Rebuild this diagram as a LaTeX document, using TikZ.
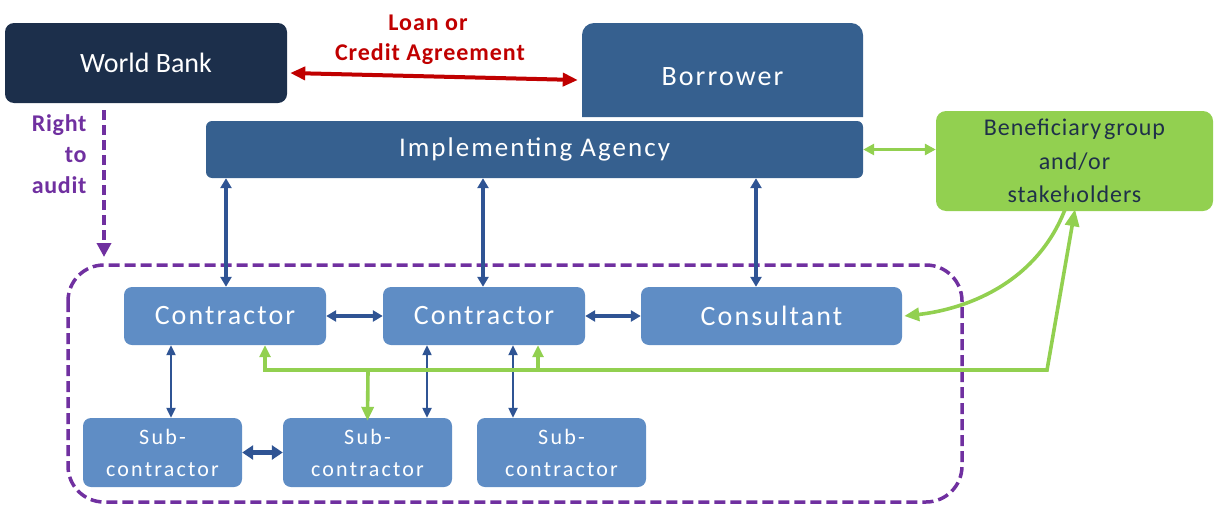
\documentclass[tikz,border=0pt]{standalone}
\usepackage{fontspec}
\setmainfont{Carlito}
\newfontfamily\fA{Carlito}[LetterSpace=7.5]
\newfontfamily\fB{Carlito}[LetterSpace=10]
\newfontfamily\fC{Carlito}[LetterSpace=4]
\newfontfamily\fD{Carlito}[LetterSpace=3]
\usetikzlibrary{arrows.meta}
\definecolor{wbnavy}{HTML}{1C2F4B}
\definecolor{agblue}{HTML}{36608F}
\definecolor{ctblue}{HTML}{5F8DC5}
\definecolor{arblue}{HTML}{2F5494}
\definecolor{bgreen}{HTML}{92D050}
\definecolor{lred}{HTML}{C00000}
\definecolor{apurple}{HTML}{7030A0}
\definecolor{bentext}{HTML}{1F3049}
\tikzset{
  topbox/.style={rounded corners=9pt, inner sep=0pt, text=white, font=\fA\fontsize{28}{32}\selectfont},
  ctbox/.style={fill=ctblue, rounded corners=8pt, inner sep=0pt, minimum height=58pt, text=white, font=\fA\fontsize{28}{32}\selectfont},
  subbox/.style={fill=ctblue, rounded corners=8pt, inner sep=0pt, minimum height=69pt, minimum width=169pt, text=white, align=center, font=\fB\fontsize{22}{32}\selectfont},
  barrow/.style={draw=arblue, line width=3.6pt, {Triangle[width=11pt,length=10pt]}-{Triangle[width=11pt,length=10pt]}},
  tarrow/.style={draw=arblue, line width=2.2pt, {Triangle[width=9pt,length=10pt]}-{Triangle[width=9pt,length=10pt]}},
  garrow/.style={draw=bgreen, line width=3.6pt},
}
\begin{document}
\begin{tikzpicture}[x=1pt,y=-1pt]
\useasboundingbox (0,0) rectangle (1214,506);
% top boxes
\node[topbox, fill=wbnavy, font=\fontsize{28}{32}\selectfont, minimum width=282pt, minimum height=80pt] (wb) at (146,63) {World Bank};
\fill[agblue] (582,117) -- (582,35) arc[start angle=180, end angle=90, radius=12pt] -- (851,23) arc[start angle=90, end angle=0, radius=12pt] -- (863,117) -- cycle;
\node[topbox, minimum width=281pt, minimum height=94pt] (bor) at (722.5,77) {Borrower};
\node[topbox, fill=agblue, font=\fA\fontsize{27}{32}\selectfont, rounded corners=6pt, minimum width=657pt, minimum height=57pt] (impl) at (534.5,149.5) {Implementing Agency};
\node[fill=bgreen, rounded corners=10pt, inner sep=0pt, minimum width=277pt, minimum height=100pt, text=bentext, align=center, font=\fC\fontsize{24}{33.5}\selectfont] (ben) at (1074.5,161) {Beneficiary\hspace{3pt}group\\and/or\\stakeholders};
% loan agreement
\node[text=lred, font=\fC\bfseries\fontsize{24}{28}\selectfont] (loan1) at (428,23) {Loan or};
\node[text=lred, font=\fC\bfseries\fontsize{24}{28}\selectfont] (loan2) at (430,54) {Credit Agreement};
\draw[draw=lred, line width=4pt, {Triangle[width=13pt,length=15pt]}-{Triangle[width=13pt,length=15pt]}] ([shift={(3,10)}]wb.east) -- ([shift={(-4,3)}]bor.west);
% right to audit
\node[text=apurple, align=right, anchor=east, font=\fD\bfseries\fontsize{24}{31}\selectfont] (audit) at (90,154) {Right\\to\\audit};
\coordinate (auditend) at (104,257);
\draw[draw=apurple, line width=3.5pt, dash pattern=on 10pt off 5pt, -{Triangle[width=14pt,length=14pt]}] ([xshift=-42,yshift=-7]wb.south) -- (auditend);
% dashed group
\draw[draw=apurple, line width=3.5pt, dash pattern=on 11pt off 5pt, rounded corners=36pt] (68,265) rectangle (962,502);
% contractors
\node[ctbox, minimum width=202pt] (c1) at (225,316) {Contractor};
\node[ctbox, minimum width=202pt] (c2) at (484,316) {Contractor};
\node[ctbox, minimum width=261pt] (cons) at (771.5,316) {Consultant};
\node[subbox, minimum width=159pt] (s1) at (162.5,452.5) {Sub-\\contractor};
\node[subbox] (s2) at (367.5,452.5) {Sub-\\contractor};
\node[subbox] (s3) at (561.5,452.5) {Sub-\\contractor};
% blue arrows
\draw[barrow] ([xshift=1]c1.north) -- ([xshift=1]c1.north |- impl.south);
\draw[barrow] ([xshift=-1]c2.north) -- ([xshift=-1]c2.north |- impl.south);
\draw[barrow] ([xshift=-15.5]cons.north) -- ([xshift=-15.5]cons.north |- impl.south);
\draw[barrow] (c1.east) -- (c2.west);
\draw[barrow] (c2.east) -- (cons.west);
\draw[tarrow] ([xshift=8.5]s1.north) -- ([xshift=8.5]s1.north |- c1.south);
\draw[tarrow] ([xshift=59.5]s2.north) -- ([xshift=59.5]s2.north |- c2.south);
\draw[tarrow] ([xshift=-48.5]s3.north) -- ([xshift=-48.5]s3.north |- c2.south);
\draw[barrow, line width=4.5pt, {Triangle[width=14pt,length=11pt]}-{Triangle[width=14pt,length=11pt]}] (s1.east) -- (s2.west);
% green arrows
\draw[garrow, {Triangle[width=11pt,length=11pt]}-{Triangle[width=11pt,length=11pt]}] (impl.east) -- (impl.east -| ben.west);
\coordinate (gk) at (1047,370);
\coordinate (gb) at (368,370);
\coordinate (gc) at (538,370);
\draw[garrow, {Triangle[width=11pt,length=12pt]}-{Triangle[width=14pt,length=17pt]}, line join=miter] ([xshift=40]c1.south) |- (gk) -- ([xshift=0.5,yshift=2]ben.south);
\draw[garrow, -{Triangle[width=12pt,length=14pt]}] (gb) -- ([yshift=-3]s2.north);
\draw[garrow, -{Triangle[width=11pt,length=12pt]}] (gc) -- ([xshift=54]c2.south);
\draw[garrow, -{Triangle[width=13pt,length=15pt]}] ([xshift=-1.5,yshift=28]ben.south) .. controls (1050,285) and (960,310) .. ([xshift=2]cons.east);
\end{tikzpicture}
\end{document}
